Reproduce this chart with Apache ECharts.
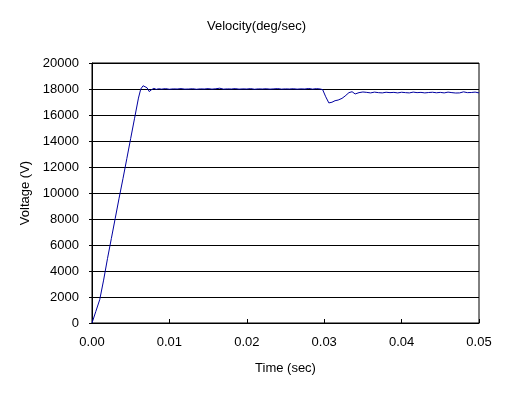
<!DOCTYPE html>
<html>
<head>
<meta charset="utf-8">
<script src="https://cdn.jsdelivr.net/npm/echarts@6/dist/echarts.min.js"></script>
<style>
html,body{margin:0;padding:0;background:#fff;}
#chart{width:513px;height:395px;}
</style>
</head>
<body>
<div id="chart"></div>
<script>
var titleText = 'Velocity(deg/sec)';
var xAxisName = 'Time (sec)';
var yAxisName = 'Voltage (V)';

var timeSec = [
  0, 0.0005, 0.001, 0.0015, 0.002, 0.0025, 0.003, 0.0035, 0.004, 0.0045,
  0.005, 0.0055, 0.006, 0.0063, 0.0066, 0.0068, 0.0071, 0.0074, 0.0077, 0.008,
  0.0083, 0.0086, 0.009, 0.0095, 0.01, 0.0105, 0.011, 0.0115, 0.012, 0.0125,
  0.013, 0.0135, 0.014, 0.0145, 0.015, 0.0155, 0.016, 0.0165, 0.017, 0.0175,
  0.018, 0.0185, 0.019, 0.0195, 0.02, 0.0205, 0.021, 0.0215, 0.022, 0.0225,
  0.023, 0.0235, 0.024, 0.0245, 0.025, 0.0255, 0.026, 0.0265, 0.027, 0.0275,
  0.028, 0.0285, 0.029, 0.0295, 0.0298, 0.0302, 0.0306, 0.031, 0.0314, 0.0318,
  0.0323, 0.0327, 0.0332, 0.0336, 0.034, 0.0345, 0.035, 0.0355, 0.036, 0.0365,
  0.037, 0.0375, 0.038, 0.0385, 0.039, 0.0395, 0.04, 0.0405, 0.041, 0.0415,
  0.042, 0.0425, 0.043, 0.0435, 0.044, 0.0445, 0.045, 0.0455, 0.046, 0.0465,
  0.047, 0.0475, 0.048, 0.0485, 0.049, 0.0495, 0.05
];

var velocity = [
  0, 900, 1800, 3300, 4950, 6500, 8050, 9600, 11100, 12650,
  14200, 15750, 17300, 18000, 18250, 18300, 18100, 17800, 17950, 18050,
  17970, 18020, 17990, 18030, 17980, 18010, 18000, 18030, 17990, 18000,
  18020, 17980, 18010, 18000, 18030, 17990, 18020, 18060, 17990, 18010,
  18000, 18030, 17990, 18010, 18000, 18030, 17980, 18010, 18000, 18020,
  17990, 18010, 18030, 17990, 18010, 18000, 18020, 17990, 18010, 18000,
  18040, 17990, 18030, 18000, 17950, 17400, 16930, 16980, 17100, 17150,
  17280, 17460, 17720, 17790, 17620, 17720, 17770, 17740, 17700, 17760,
  17720, 17700, 17750, 17720, 17740, 17700, 17750, 17720, 17700, 17760,
  17720, 17740, 17700, 17730, 17750, 17710, 17740, 17700, 17760, 17720,
  17690, 17700, 17780, 17720, 17730, 17760, 17700
];

var xMin = 0, xMax = 0.05, xStep = 0.01;
var yMin = 0, yMax = 20000, yStep = 2000;

var pts = timeSec.map(function (t, i) { return [t, velocity[i]]; });
var font = 'Liberation Sans, Arial, sans-serif';

var chart = echarts.init(document.getElementById('chart'), null, {renderer: 'canvas'});
chart.setOption({
  animation: false,
  backgroundColor: '#ffffff',
  title: {
    text: titleText,
    left: 'center',
    top: 15,
    textStyle: {fontFamily: font, fontSize: 13, fontWeight: 'normal', color: '#000'}
  },
  grid: {
    left: 92, right: 34, top: 63, bottom: 72,
    show: true, borderColor: '#000', borderWidth: 1, backgroundColor: 'transparent',
    containLabel: false
  },
  xAxis: {
    type: 'value',
    min: xMin, max: xMax, interval: xStep,
    name: xAxisName,
    nameLocation: 'middle',
    nameGap: 39,
    nameTextStyle: {fontFamily: font, fontSize: 13, color: '#000'},
    axisLine: {show: true, lineStyle: {color: '#000', width: 1}},
    axisTick: {show: true, inside: true, length: 4, lineStyle: {color: '#000'}},
    axisLabel: {
      margin: 13, color: '#000', fontFamily: font, fontSize: 13,
      formatter: function (v) { return v.toFixed(2); }
    },
    splitLine: {show: false}
  },
  yAxis: {
    type: 'value',
    min: yMin, max: yMax, interval: yStep,
    name: yAxisName,
    nameLocation: 'middle',
    nameGap: 57,
    nameRotate: 90,
    nameTextStyle: {fontFamily: font, fontSize: 13, color: '#000'},
    axisLine: {show: true, lineStyle: {color: '#000', width: 1}},
    axisTick: {show: true, inside: false, length: 3, lineStyle: {color: '#000'}},
    axisLabel: {
      margin: 13, color: '#000', fontFamily: font, fontSize: 13,
      formatter: function (v) { return String(v); }
    },
    splitLine: {show: true, lineStyle: {color: '#000', width: 1}}
  },
  series: [{
    type: 'line',
    data: pts,
    showSymbol: false,
    symbol: 'none',
    lineStyle: {color: '#0000a0', width: 1},
    itemStyle: {color: '#0000a0'}
  }]
});
</script>
</body>
</html>
